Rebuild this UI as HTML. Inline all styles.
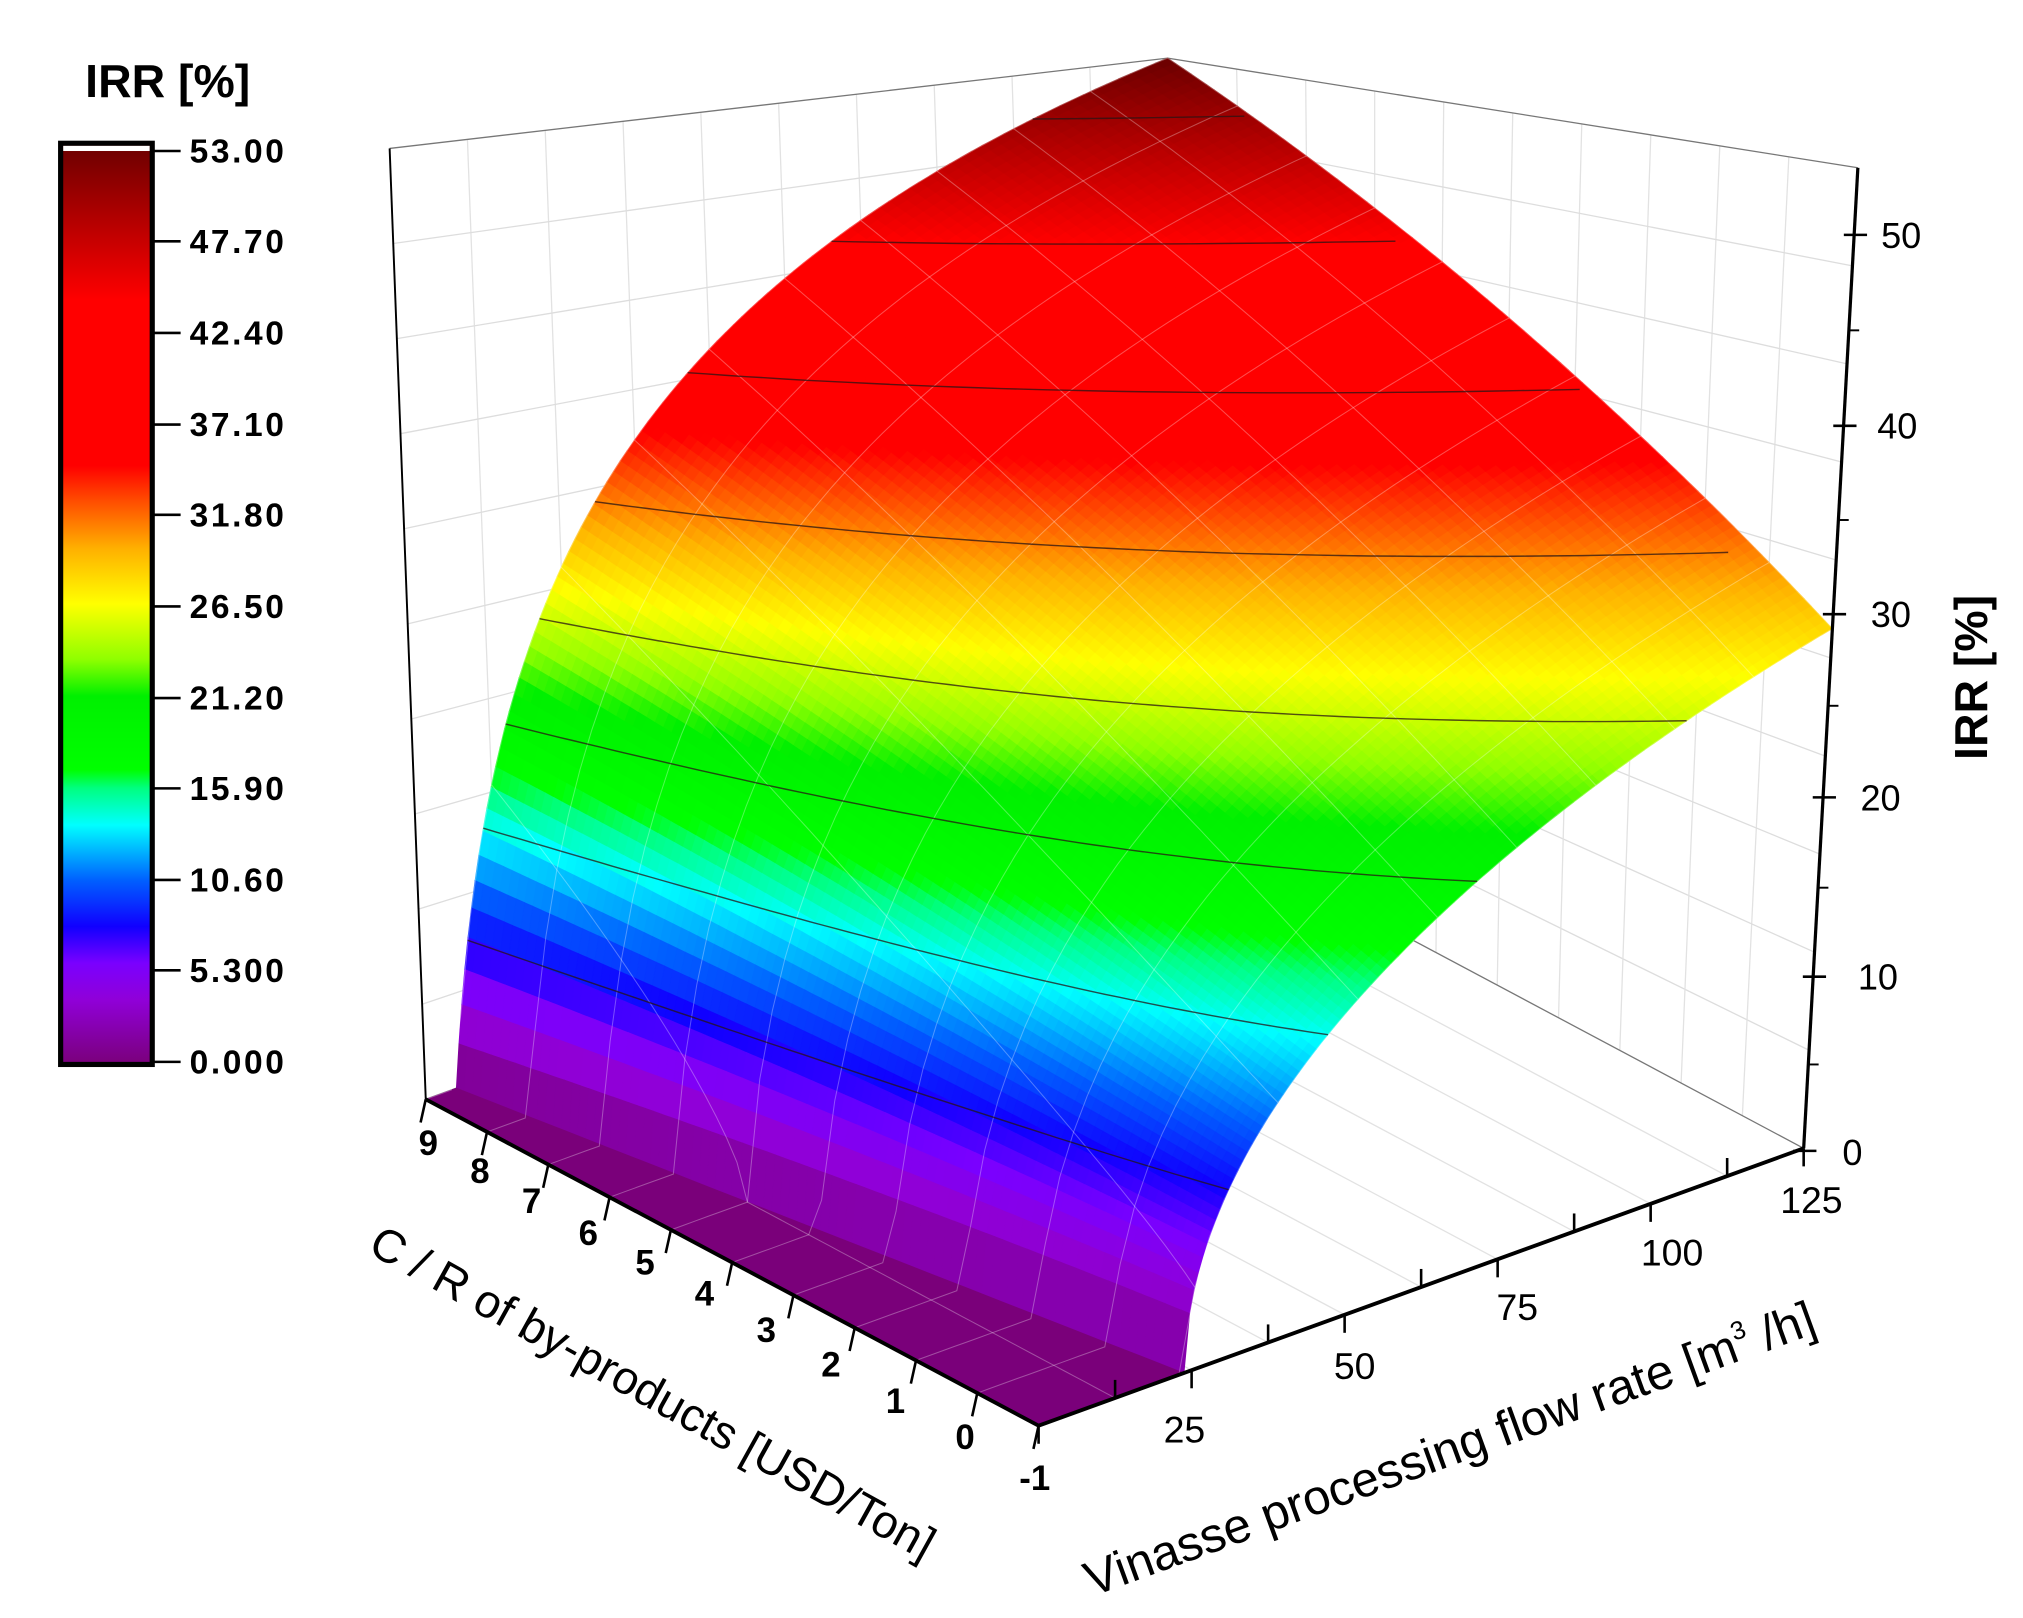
<!DOCTYPE html>
<html><head><meta charset="utf-8"><style>
html,body{margin:0;padding:0;background:#fff}
svg{display:block}
text{font-family:"Liberation Sans",Arial,sans-serif}
</style></head><body>
<svg id="s" width="2023" height="1618" viewBox="0 0 1568 1254" xmlns="http://www.w3.org/2000/svg">
<defs>
<linearGradient id="cb" x1="0" y1="1" x2="0" y2="0">
<stop offset="0" stop-color="#7a007a"/>
<stop offset="0.07" stop-color="#9000d8"/>
<stop offset="0.11" stop-color="#7a00ff"/>
<stop offset="0.15" stop-color="#1000ff"/>
<stop offset="0.2" stop-color="#0060ff"/>
<stop offset="0.26" stop-color="#00ffff"/>
<stop offset="0.3" stop-color="#00ff80"/>
<stop offset="0.32" stop-color="#00ff00"/>
<stop offset="0.4" stop-color="#00f000"/>
<stop offset="0.44" stop-color="#90ff00"/>
<stop offset="0.5" stop-color="#ffff00"/>
<stop offset="0.56" stop-color="#ffb000"/>
<stop offset="0.61" stop-color="#ff5000"/>
<stop offset="0.65" stop-color="#ff0000"/>
<stop offset="0.83" stop-color="#ff0000"/>
<stop offset="0.92" stop-color="#b00000"/>
<stop offset="1" stop-color="#6a0000"/>
</linearGradient>
</defs>
<g id="walls"></g>
<g id="surf"></g>
<g id="axes"></g>
<text x="130" y="75" font-size="36" font-weight="bold" text-anchor="middle">IRR [%]</text>
<rect x="47" y="111" width="71" height="714" fill="url(#cb)" stroke="#000" stroke-width="4"/>
<rect x="49" y="113" width="67" height="4" fill="#fff"/>
<g stroke="#000" stroke-width="2">
<line x1="118" y1="117" x2="140" y2="117"/><line x1="118" y1="187" x2="140" y2="187"/>
<line x1="118" y1="258" x2="140" y2="258"/><line x1="118" y1="329" x2="140" y2="329"/>
<line x1="118" y1="399" x2="140" y2="399"/><line x1="118" y1="470" x2="140" y2="470"/>
<line x1="118" y1="541" x2="140" y2="541"/><line x1="118" y1="611" x2="140" y2="611"/>
<line x1="118" y1="682" x2="140" y2="682"/><line x1="118" y1="752" x2="140" y2="752"/>
<line x1="118" y1="823" x2="140" y2="823"/>
</g>
<g font-size="26" font-weight="bold" letter-spacing="2">
<text x="147" y="126">53.00</text><text x="147" y="196">47.70</text>
<text x="147" y="267">42.40</text><text x="147" y="338">37.10</text>
<text x="147" y="408">31.80</text><text x="147" y="479">26.50</text>
<text x="147" y="550">21.20</text><text x="147" y="620">15.90</text>
<text x="147" y="691">10.60</text><text x="147" y="761">5.300</text>
<text x="147" y="832">0.000</text>
</g>
<g font-size="28">
<text x="1458" y="192">50</text><text x="1455" y="340">40</text>
<text x="1450" y="486">30</text><text x="1442" y="628">20</text>
<text x="1440" y="767">10</text><text x="1428" y="903">0</text>
</g>
<text transform="translate(1540,525) rotate(-90)" font-size="36" font-weight="bold" text-anchor="middle">IRR [%]</text>
<g font-size="27" font-weight="bold" text-anchor="middle">
<text x="332" y="895">9</text><text x="372" y="917">8</text><text x="412" y="940">7</text>
<text x="456" y="965">6</text><text x="500" y="988">5</text><text x="546" y="1012">4</text>
<text x="594" y="1040">3</text><text x="644" y="1067">2</text><text x="694" y="1095">1</text>
<text x="748" y="1123">0</text><text x="802" y="1155">-1</text>
</g>
<g font-size="29" text-anchor="middle">
<text x="918" y="1118">25</text><text x="1050" y="1069">50</text><text x="1176" y="1023">75</text>
<text x="1296" y="981">100</text><text x="1404" y="940">125</text>
</g>
<text transform="translate(500,1090) rotate(29)" font-size="36" text-anchor="middle">C / R of by-products [USD/Ton]</text>
<text transform="translate(1128,1135) rotate(-20)" font-size="38" text-anchor="middle">Vinasse processing flow rate [m<tspan dy="-16" font-size="20">3</tspan><tspan dy="16"> /h]</tspan></text>
</svg>
<script>
(function(){
var NS="http://www.w3.org/2000/svg";
var Ff=[805,1105],Lf=[330,852],Rf=[1398,890],Bf=[923,637];
var Lt=[302,115],Rt=[1440,130],Bt=[905,45],Ft=[837,200];
function bil(a,b,c,d,u,v){
 return [a[0]*(1-u)*(1-v)+b[0]*u*(1-v)+c[0]*(1-u)*v+d[0]*u*v,
         a[1]*(1-u)*(1-v)+b[1]*u*(1-v)+c[1]*(1-u)*v+d[1]*u*v];}
function P(u,v,w){var f=bil(Ff,Lf,Rf,Bf,u,v),t=bil(Ft,Lt,Rt,Bt,u,v);
 return [f[0]*(1-w)+t[0]*w,f[1]*(1-w)+t[1]*w];}
function off(u){return 0.19-0.15*u;}
function zt(u,t){var f=(1-u)*Math.pow(t,0.45)+u*Math.log(1+30*t)/Math.log(31);
 return (0.53+0.47*u)*53*f;}
function z(u,v){var o=off(u);var vv=Math.max(0,(v-o)/(1-o));return zt(u,vv);}
function Q(u,t){var o=off(u);var v=o+t*(1-o);return P(u,v,zt(u,t)/53);}
var st=[[0,[122,0,122]],[3.7,[144,0,216]],[5.8,[122,0,255]],[8,[16,0,255]],[10.6,[0,96,255]],[13.8,[0,255,255]],[15.9,[0,255,128]],[17,[0,255,0]],[21.2,[0,240,0]],[23.3,[144,255,0]],[26.5,[255,255,0]],[29.7,[255,176,0]],[32.3,[255,80,0]],[34.5,[255,0,0]],[44,[255,0,0]],[48.8,[176,0,0]],[53,[106,0,0]]];
function col(val){for(var i=1;i<st.length;i++){if(val<=st[i][0]){var a=st[i-1],b=st[i],t=(val-a[0])/(b[0]-a[0]);
 return "rgb("+[0,1,2].map(function(k){return Math.round(a[1][k]+(b[1][k]-a[1][k])*t)}).join(",")+")";}}return "rgb(106,0,0)";}
function el(tag,at,par){var e=document.createElementNS(NS,tag);for(var k in at)e.setAttribute(k,at[k]);par.appendChild(e);return e;}
function pts(a){return a.map(function(p){return p[0].toFixed(1)+","+p[1].toFixed(1)}).join(" ");}
var W=document.getElementById("walls");
el("polygon",{points:pts([Lf,Bf,Bt,Lt]),fill:"#fff",stroke:"none"},W);
for(var i=1;i<10;i++){var t=i/10;
 var a=P(1,0,t),b=P(1,1,t);el("line",{x1:a[0],y1:a[1],x2:b[0],y2:b[1],stroke:"#ddd","stroke-width":1},W);
 var d=P(0,1,t);el("line",{x1:b[0],y1:b[1],x2:d[0],y2:d[1],stroke:"#ddd","stroke-width":1},W);
 var e=P(1,t,0),f=P(1,t,1);el("line",{x1:e[0],y1:e[1],x2:f[0],y2:f[1],stroke:"#e2e2e2","stroke-width":1},W);
 var g=P(t,1,0),h=P(t,1,1);el("line",{x1:g[0],y1:g[1],x2:h[0],y2:h[1],stroke:"#e2e2e2","stroke-width":1},W);
 var m=P(0,t,0),n=P(1,t,0);el("line",{x1:m[0],y1:m[1],x2:n[0],y2:n[1],stroke:"#e2e2e2","stroke-width":1},W);
}
[[Lt,Bt],[Bt,Rt],[Bf,Bt],[Bf,Rf],[Bf,Lf]].forEach(function(s){el("line",{x1:s[0][0],y1:s[0][1],x2:s[1][0],y2:s[1][1],stroke:"#777","stroke-width":1},W);});
var S=document.getElementById("surf");
// surface on (u,t) grid, t nonuniform
var NU=90,NT=90;var quads=[];
function tt(j){var s=j/NT;return s*s*0.5+s*0.5;}
for(var i=0;i<NU;i++)for(var j=0;j<NT;j++){quads.push({d:j*1000+i,u0:i/NU,u1:(i+1)/NU,t0:tt(j),t1:tt(j+1)});}
quads.sort(function(a,b){return b.d-a.d});
quads.forEach(function(q){var c=[[q.u0,q.t0],[q.u1,q.t0],[q.u1,q.t1],[q.u0,q.t1]];
 var p=c.map(function(k){return Q(k[0],k[1])});
 var zc=zt((q.u0+q.u1)/2,(q.t0+q.t1)/2);var cl=col(zc);
 el("polygon",{points:pts(p),fill:cl,stroke:cl,"stroke-width":0.6},S);});
// flat floor strip in front
var fl=[];for(var m=0;m<=20;m++){var u=m/20;fl.push(P(u,0,0));}
for(var m=20;m>=0;m--){var u=m/20;fl.push(P(u,off(u),0));}
el("polygon",{points:pts(fl),fill:"rgb(122,0,122)",stroke:"rgb(122,0,122)","stroke-width":0.6},S);
for(var k=0;k<=10;k++){var t=k/10,a1=[],a2=[];
 for(var m=0;m<=60;m++){var s=m/60;a1.push(P(t,s,z(t,s)/53));a2.push(P(s,t,z(s,t)/53));}
 el("polyline",{points:pts(a1),fill:"none",stroke:"rgba(255,255,255,0.3)","stroke-width":0.8},S);
 el("polyline",{points:pts(a2),fill:"none",stroke:"rgba(255,255,255,0.3)","stroke-width":0.8},S);}
[8,14,19.5,25,31,37.5,44,50].forEach(function(lv){var pl=[];
 for(var m=0;m<=60;m++){var u=m/60,lo=0,hi=1;if(zt(u,1)<lv)continue;
  for(var it=0;it<30;it++){var md=(lo+hi)/2;if(zt(u,md)<lv)lo=md;else hi=md;}
  pl.push(Q(u,lo));}
 if(pl.length>1)el("polyline",{points:pts(pl),fill:"none",stroke:"rgba(40,20,20,0.75)","stroke-width":1.1},S);});
var A=document.getElementById("axes");
function ln(a,b,w){el("line",{x1:a[0],y1:a[1],x2:b[0],y2:b[1],stroke:"#000","stroke-width":w||2.5},A);}
ln([330,852],[805,1105],3);ln([805,1105],[1398,890],3);
ln([302,115],[330,852],1.5);ln([1440,130],[1398,890],2.5);
for(var k=0;k<=10;k++){var t=k/10;var p=[330+(805-330)*(1-t),852+(1105-852)*(1-t)];
 ln([p[0],p[1]],[p[0]-4,p[1]+18],2);}
for(var k=0;k<=10;k++){var t=k/10;var p=[805+(1398-805)*t,1105+(890-1105)*t];
 ln([p[0],p[1]],[p[0],p[1]+(k%2==1?-14:14)],2);}
[182,330,476,618,757,892].forEach(function(y){var x=1440-(y-130)*42/760;ln([x-8,y],[x+10,y],2);});
[256,403,547,688,825].forEach(function(y){var x=1440-(y-130)*42/760;ln([x,y],[x+8,y],1.5);});
})();
</script>
</body></html>
